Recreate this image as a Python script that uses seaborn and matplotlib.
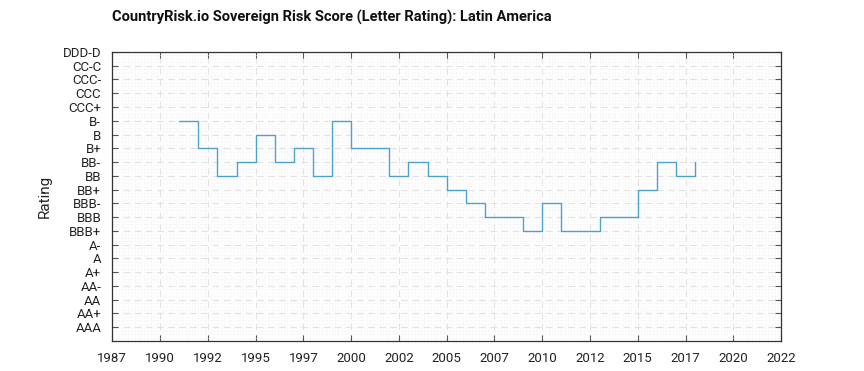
import numpy as np
import pandas as pd
import seaborn as sns
import matplotlib.pyplot as plt
from matplotlib.ticker import MultipleLocator

# rating scale, best (bottom) to worst (top)
ratings = ["AAA", "AA+", "AA", "AA-", "A+", "A", "A-", "BBB+", "BBB", "BBB-",
           "BB+", "BB", "BB-", "B+", "B", "B-", "CCC+", "CCC", "CCC-", "CC-C", "DDD-D"]

years = [1990.5, 1991.5, 1992.5, 1993.5, 1994.5, 1995.5, 1996.5, 1997.5, 1998.5, 1999.5,
         2000.5, 2001.5, 2002.5, 2003.5, 2004.5, 2005.5, 2006.5, 2007.5, 2008.5, 2009.5,
         2010.5, 2011.5, 2012.5, 2013.5, 2014.5, 2015.5, 2016.5, 2017.5]
scores = ["B-", "B+", "BB", "BB-", "B", "BB-", "B+", "BB", "B-", "B+",
          "B+", "BB", "BB-", "BB", "BB+", "BBB-", "BBB", "BBB", "BBB+", "BBB-",
          "BBB+", "BBB+", "BBB", "BBB", "BB+", "BB-", "BB", "BB-"]

xticks = [1987, 1989.5, 1992, 1994.5, 1997, 1999.5, 2002, 2004.5, 2007, 2009.5,
          2012, 2014.5, 2017, 2019.5, 2022]
xlabels = ["1987", "1990", "1992", "1995", "1997", "2000", "2002", "2005", "2007", "2010",
           "2012", "2015", "2017", "2020", "2022"]

df = pd.DataFrame({"year": years, "rating": scores})
df["level"] = df["rating"].map({r: i + 1 for i, r in enumerate(ratings)})

sns.set_style("white")
plt.rcParams['font.family'] = ['Roboto', 'DejaVu Sans']

fig, ax = plt.subplots(figsize=(8.64, 3.71), dpi=100)
fig.subplots_adjust(left=0.13, right=0.904, top=0.86, bottom=0.081)

sns.lineplot(data=df, x="year", y="level", drawstyle="steps-post",
             color="#4ba3cc", linewidth=1.0, ax=ax)

ax.set_xlim(1987, 2022)
ax.set_ylim(0, len(ratings))
ax.set_xticks(xticks)
ax.set_xticklabels(xlabels, fontsize=9.5, color="#222222")
ax.set_yticks(range(1, len(ratings) + 1))
ax.set_yticklabels(ratings, fontsize=9.5, color="#222222")
ax.xaxis.set_minor_locator(MultipleLocator(1 / 6))
ax.yaxis.set_minor_locator(MultipleLocator(0.25))

ax.grid(which="major", color="#e2e2e2", linestyle=(0, (6, 4)), linewidth=0.8)
ax.grid(which="minor", color="#ececec", linestyle=(0, (1, 2)), linewidth=0.5)
ax.set_axisbelow(True)

ax.tick_params(which="major", direction="in", length=4, width=0.8, color="#555555",
               top=True, right=True, bottom=True, left=True, pad=8)
ax.tick_params(which="minor", length=0)
for s in ax.spines.values():
    s.set_color("#333333")
    s.set_linewidth(0.9)

ax.set_xlabel("")
ax.set_ylabel("Rating", fontsize=11, color="#222222", labelpad=8)
ax.set_title("CountryRisk.io Sovereign Risk Score (Letter Rating): Latin America",
             fontsize=10.5, fontweight="bold", loc="left", pad=22, color="#111111")

fig.savefig("out.png", dpi=100)
